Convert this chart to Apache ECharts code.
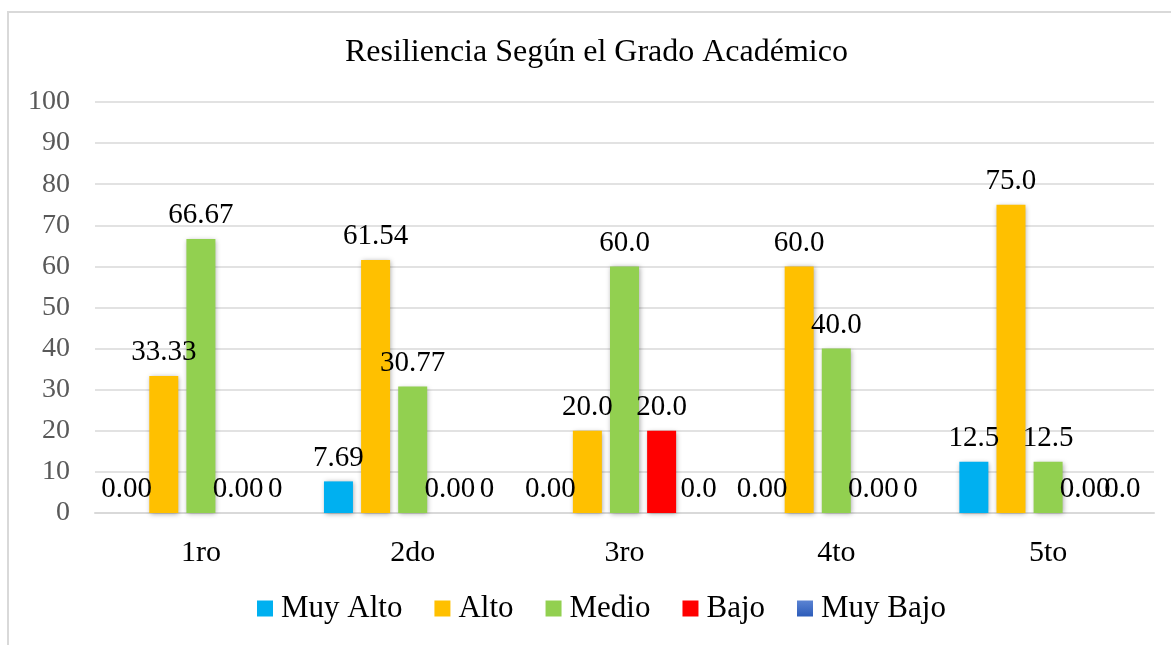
<!DOCTYPE html>
<html>
<head>
<meta charset="utf-8">
<script src="https://cdn.jsdelivr.net/npm/echarts@6/dist/echarts.min.js"></script>
<style>
  html, body { margin: 0; padding: 0; background: #fff; overflow: hidden; }
  #frame { position: absolute; left: 7px; top: 11px; width: 1200px; height: 700px; border: 2px solid #d9d9d9; }
  #chart { position: absolute; left: 0; top: 0; width: 1171px; height: 645px; }
</style>
</head>
<body>
<div id="frame"></div>
<div id="chart"></div>
<script>
// Resiliencia según grado académico: barras agrupadas, etiquetas tal como aparecen en el original
const grados = ['1ro', '2do', '3ro', '4to', '5to']
const niveles = ['Muy Alto', 'Alto', 'Medio', 'Bajo', 'Muy Bajo']

const muyAlto = [0, 7.69, 0, 0, 12.5]
const alto = [33.33, 61.54, 20, 60, 75]
const medio = [66.67, 30.77, 60, 40, 12.5]
const bajo = [0, 0, 20, 0, 0]
const muyBajo = [0, 0, 0, 0, 0]

// texto de cada etiqueta (el original mezcla formatos)
const muyAltoTxt = ['0.00', '7.69', '0.00', '0.00', '12.5']
const altoTxt = ['33.33', '61.54', '20.0', '60.0', '75.0']
const medioTxt = ['66.67', '30.77', '60.0', '40.0', '12.5']
const bajoTxt = ['0.00', '0.00', '20.0', '0.00', '0.00']
const muyBajoTxt = ['0', '0', '0.0', '0', '0.0']

const yTicks = [0, 10, 20, 30, 40, 50, 60, 70, 80, 90, 100]

const serif = '"Liberation Serif", "Times New Roman", serif'
const gridColor = '#d9d9d9'

const colores = [
  '#00b0f0',
  '#ffc000',
  '#92d050',
  '#ff0000',
  new echarts.graphic.LinearGradient(0, 0, 0, 1, [
    { offset: 0, color: '#5b83d3' },
    { offset: 1, color: '#2c5cb9' },
  ]),
]

const valores = [muyAlto, alto, medio, bajo, muyBajo]
const textos = [muyAltoTxt, altoTxt, medioTxt, bajoTxt, muyBajoTxt]

const chart = echarts.init(document.getElementById('chart'), null, { renderer: 'canvas' })

chart.setOption({
  animation: false,
  title: {
    text: 'Resiliencia Según el Grado Académico',
    left: 345, top: 37, padding: 0,
    textStyle: { fontFamily: serif, fontSize: 32, fontWeight: 'normal', color: '#000' },
  },
  grid: { left: 95, right: 17, top: 102, bottom: 132, containLabel: false },
  legend: {
    data: niveles,
    left: 257, top: 593, padding: 0,
    itemWidth: 16, itemHeight: 16, itemGap: 32,
    icon: 'rect',
    textStyle: { fontFamily: serif, fontSize: 31, color: '#000', padding: [0, 0, 0, 3] },
  },
  xAxis: {
    type: 'category', data: grados,
    axisLine: { lineStyle: { color: gridColor, width: 2 } },
    axisTick: { show: false },
    axisLabel: { fontFamily: serif, fontSize: 30, color: '#000', margin: 25 },
  },
  yAxis: {
    type: 'value', min: yTicks[0], max: yTicks[yTicks.length - 1], interval: 10,
    axisLine: { show: false },
    axisTick: { show: false },
    splitLine: { lineStyle: { color: gridColor, width: 1.5 } },
    axisLabel: { fontFamily: serif, fontSize: 28, color: '#595959', margin: 25 },
  },
  series: niveles.map((nombre, s) => ({
    name: nombre,
    type: 'bar',
    barWidth: 29,
    barGap: '28%',
    data: valores[s],
    itemStyle: {
      color: colores[s],
      shadowColor: 'rgba(0,0,0,0.35)',
      shadowBlur: 5,
      shadowOffsetX: 1,
      shadowOffsetY: 1,
    },
    label: {
      show: true, position: 'top', distance: 9,
      fontFamily: serif, fontSize: 29, color: '#000',
      formatter: (p) => textos[s][p.dataIndex],
    },
  })),
})
</script>
</body>
</html>
